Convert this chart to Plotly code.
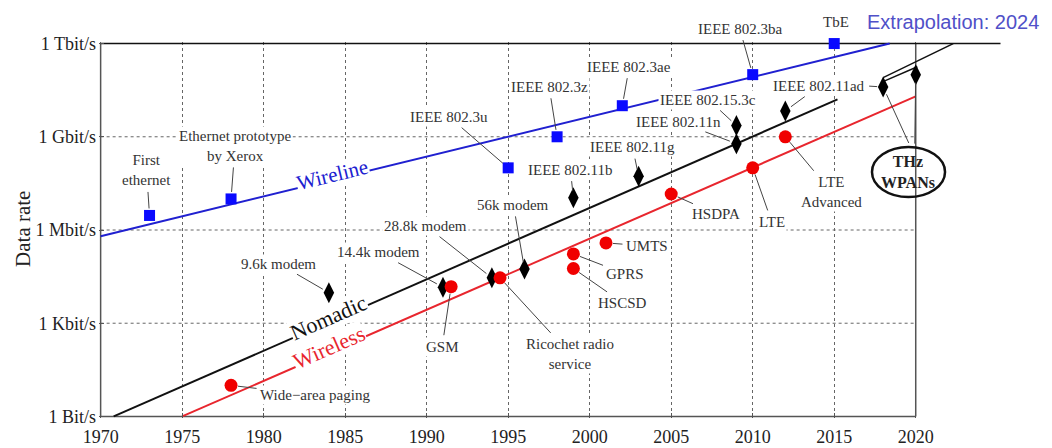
import numpy as np
import plotly.graph_objects as go

# ---------------- data ----------------
# Wireline milestones (blue squares)
wire_years = [1973, 1978, 1995, 1998, 2002, 2010, 2015]
wire_rates = [2.94e6, 1e7, 1e8, 1e9, 1e10, 1e11, 1e12]
wire_labels = ["First<br>ethernet", "Ethernet prototype<br>by Xerox", "IEEE 802.3u",
               "IEEE 802.3z", "IEEE 802.3ae", "IEEE 802.3ba", "TbE"]

# Nomadic milestones (black diamonds)
nomadic_years = [1984, 1991, 1994, 1996, 1999, 2003, 2009, 2009, 2012, 2018, 2020]
nomadic_rates = [9.6e3, 1.44e4, 2.88e4, 5.6e4, 1.1e7, 5.4e7, 6e8, 2.3e9, 6.8e9, 4e10, 1e11]
nomadic_labels = ["9.6k modem", "14.4k modem", "28.8k modem", "56k modem", "IEEE 802.11b",
                  "IEEE 802.11g", "IEEE 802.11n", "IEEE 802.15.3c", "IEEE 802.11ad", "", ""]

# Wireless milestones (red circles)
wireless_years = [1978, 1991.5, 1994.5, 1999, 1999, 2001, 2005, 2010, 2012]
wireless_rates = [10, 1.5e4, 2.88e4, 1.7e5, 5.76e4, 3.84e5, 1.44e7, 1e8, 1e9]
wireless_labels = ["Wide\u2212area paging", "GSM", "Ricochet radio<br>service", "GPRS", "HSCSD",
                   "UMTS", "HSDPA", "LTE", "LTE<br>Advanced"]

# Trend lines
wireline_trend_years = [1970, 2018.4]
wireline_trend_rates = [6.3e5, 1e12]
nomadic_trend_years = [1970.8, 2015.2]
nomadic_trend_rates = [1, 1.6e10]
wireless_trend_years = [1975, 2020]
wireless_trend_rates = [1, 2e10]
# Extrapolation lines (added on top right)
extrap_a_years = [2018, 2022.3]
extrap_a_rates = [8e10, 1e12]
extrap_b_years = [2018.1, 2020.1]
extrap_b_rates = [6.3e10, 1.8e11]
top_line_years = [1970, 2025.2]
top_line_rates = [1e12, 1e12]

x_ticks = [1970, 1975, 1980, 1985, 1990, 1995, 2000, 2005, 2010, 2015, 2020]
y_ticks = [1, 1e3, 1e6, 1e9, 1e12]
y_ticktext = ["1 Bit/s", "1 Kbit/s", "1 Mbit/s", "1 Gbit/s", "1 Tbit/s"]

# label offsets (pixels) of each label relative to its marker
wire_offsets = [(-3, -45), (4, -53), (-59, -51), (-8, -50), (7, -39), (-13, -46), (2, -22)]
nomadic_offsets = [(-50, -29), (-64, -35), (-66, -52), (-11, -64), (-3, -28), (-6, -29),
                   (-58, -22), (-28, -26), (34, -25), None, None]
wireless_offsets = [(84, 10), (-9, 60), (70, 76), (52, 20), (49, 34), (41, 3), (45, 20),
                    (19, 54), (46, 55)]

SERIF = "Liberation Serif"
GRID = "#666666"
BORDER = "#555555"
TXT = "#333333"

fig = go.Figure()

# horizontal dotted grid lines (stop at 2020)
for v in y_ticks[1:-1]:
    fig.add_trace(go.Scatter(x=[x_ticks[0], x_ticks[-1]], y=[v, v], mode="lines",
                             line=dict(color=GRID, width=1, dash="dot"),
                             hoverinfo="skip", showlegend=False))

# plot frame
frame = [
    ([x_ticks[0], x_ticks[-1]], [y_ticks[0], y_ticks[0]], BORDER, 1.5),
    ([x_ticks[0], x_ticks[0]], [y_ticks[0], y_ticks[-1]], BORDER, 1.5),
    ([x_ticks[-1], x_ticks[-1]], [y_ticks[0], y_ticks[-1]], BORDER, 1.5),
    (top_line_years, top_line_rates, "#111111", 1.6),
]
for xs, ys, c, w in frame:
    fig.add_trace(go.Scatter(x=xs, y=ys, mode="lines", line=dict(color=c, width=w),
                             hoverinfo="skip", showlegend=False))

# trend lines
fig.add_trace(go.Scatter(x=wireline_trend_years, y=wireline_trend_rates, mode="lines",
                         line=dict(color="#2020d0", width=2), showlegend=False))
fig.add_trace(go.Scatter(x=nomadic_trend_years, y=nomadic_trend_rates, mode="lines",
                         line=dict(color="#111111", width=2), showlegend=False))
fig.add_trace(go.Scatter(x=wireless_trend_years, y=wireless_trend_rates, mode="lines",
                         line=dict(color="#e8262e", width=2), showlegend=False))
fig.add_trace(go.Scatter(x=extrap_a_years, y=extrap_a_rates, mode="lines",
                         line=dict(color="#111111", width=1.5), showlegend=False))
fig.add_trace(go.Scatter(x=extrap_b_years, y=extrap_b_rates, mode="lines",
                         line=dict(color="#111111", width=1.5), showlegend=False))

# markers
fig.add_trace(go.Scatter(x=nomadic_years, y=nomadic_rates, mode="markers", cliponaxis=False,
                         marker=dict(symbol="diamond-tall", size=15, color="#000000"),
                         showlegend=False))
fig.add_trace(go.Scatter(x=wire_years, y=wire_rates, mode="markers", cliponaxis=False,
                         marker=dict(symbol="square", size=11, color="#0a0aff"),
                         showlegend=False))
fig.add_trace(go.Scatter(x=wireless_years, y=wireless_rates, mode="markers", cliponaxis=False,
                         marker=dict(symbol="circle", size=13, color="#f00000"),
                         showlegend=False))

annotations = []


def add_labels(years, rates, labels, offsets):
    for yr, r, lab, off in zip(years, rates, labels, offsets):
        if off is None or not lab:
            continue
        ax, ay = off
        show_arrow = lab != "TbE"
        annotations.append(dict(
            x=yr, y=np.log10(r), xref="x", yref="y", text=lab,
            showarrow=show_arrow, arrowhead=0, arrowwidth=1, arrowcolor="#444444",
            ax=ax, ay=ay, standoff=7, startstandoff=2,
            xanchor="center", yanchor="middle",
            xshift=0 if show_arrow else ax, yshift=0 if show_arrow else -ay,
            font=dict(family=SERIF, size=15, color=TXT),
            bgcolor="white", borderpad=1, align="center"))


add_labels(wire_years, wire_rates, wire_labels, wire_offsets)
add_labels(nomadic_years, nomadic_rates, nomadic_labels, nomadic_offsets)
add_labels(wireless_years, wireless_rates, wireless_labels, wireless_offsets)

# extra pointer from "IEEE 802.11ad" label to the 2018 diamond
annotations.append(dict(x=nomadic_years[9], y=np.log10(nomadic_rates[9]), xref="x", yref="y",
                        text=" ", showarrow=True, arrowhead=0, arrowwidth=1,
                        arrowcolor="#444444", ax=-16, ay=-1, standoff=6,
                        font=dict(size=2)))
# THz WPAN pointers
for i, (ax, ay) in zip([9, 10], [(27, 59), (-1, 72)]):
    annotations.append(dict(x=nomadic_years[i], y=np.log10(nomadic_rates[i]), xref="x", yref="y",
                            text=" ", showarrow=True, arrowhead=0, arrowwidth=1,
                            arrowcolor="#444444", ax=ax, ay=ay, standoff=8,
                            font=dict(size=2)))


def on_line(year, yrs, rates):
    return np.interp(year, yrs, np.log10(rates))


# trend line labels
for text, yr, yrs, rates, color, ang, size in [
    ("Wireline", 1984.2, wireline_trend_years, wireline_trend_rates, "#2020d0", -13.7, 21),
    ("Nomadic", 1984.0, nomadic_trend_years, nomadic_trend_rates, "#111111", -23.6, 22),
    ("Wireless", 1984.0, wireless_trend_years, wireless_trend_rates, "#e8262e", -23.6, 22),
]:
    annotations.append(dict(x=yr, y=on_line(yr, yrs, rates), xref="x", yref="y", text=text,
                            showarrow=False, textangle=ang, yshift=5,
                            xanchor="center", yanchor="middle",
                            font=dict(family=SERIF, size=size, color=color),
                            bgcolor="white", borderpad=0))

# THz WPANs ellipse text
annotations.append(dict(x=0.8616, y=0.6543, xref="paper", yref="paper",
                        xanchor="center", yanchor="middle",
                        text="<b>THz<br>WPANs</b>", showarrow=False,
                        font=dict(family=SERIF, size=16, color="#222222")))
# y title
annotations.append(dict(x=-0.081, y=0.5027, xref="paper", yref="paper", text="Data rate",
                        xanchor="center", yanchor="middle",
                        showarrow=False, textangle=-90,
                        font=dict(family=SERIF, size=21, color="#222222")))
# extrapolation note
annotations.append(dict(x=0.9095, y=1.053, xref="paper", yref="paper",
                        xanchor="center", yanchor="middle",
                        text="Extrapolation: 2024", showarrow=False,
                        font=dict(family="Liberation Sans", size=20, color="#5050c8")))

fig.update_layout(
    width=1052, height=448,
    margin=dict(l=91, r=22, t=34, b=38, autoexpand=False),
    paper_bgcolor="white", plot_bgcolor="white",
    annotations=annotations,
    shapes=[dict(type="circle", xref="paper", yref="paper", x0=0.8232, x1=0.9010,
                 y0=0.5878, y1=0.7207, line=dict(color="#111111", width=2.5),
                 fillcolor="rgba(0,0,0,0)")],
    xaxis=dict(range=[1969.9, 2027.5], tickvals=x_ticks, showline=False, zeroline=False,
               automargin=False,
               showgrid=True, gridcolor=GRID, griddash="dot", gridwidth=1,
               ticks="inside", ticklen=5, tickcolor=BORDER, ticklabelstandoff=6,
               tickfont=dict(family=SERIF, size=18, color="#222222")),
    yaxis=dict(type="log", range=[-0.05, 12.05], tickvals=y_ticks, ticktext=y_ticktext,
               showline=False, zeroline=False, showgrid=False, automargin=False,
               ticks="inside", ticklen=5, tickcolor=BORDER, ticklabelstandoff=2,
               tickfont=dict(family=SERIF, size=18, color="#222222")),
)

fig.write_html("out.html")
